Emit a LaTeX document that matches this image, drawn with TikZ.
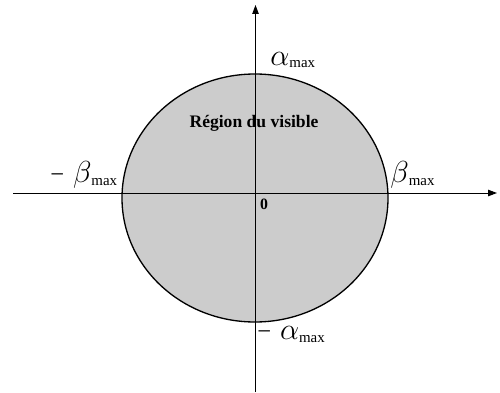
\documentclass[tikz,border=0pt]{standalone}
\usepackage{fontspec}
\setmainfont{Liberation Serif}
\usetikzlibrary{arrows.meta}
\newcommand{\bigsz}{\fontsize{17}{17}\selectfont}
\newcommand{\subsz}{\fontsize{8.5}{8.5}\selectfont}
\newcommand{\minsz}{\fontsize{14}{14}\selectfont}
\begin{document}
\begin{tikzpicture}[x=0.02cm,y=-0.02cm,
  axis/.style={line width=0.55pt,-{Triangle[length=5pt,width=3.6pt]}},
  lbl/.style={inner sep=0pt,anchor=base west},
]
\useasboundingbox (0,0) rectangle (500,392);
% region
\draw[line width=0.75pt,fill={rgb,255:red,204;green,204;blue,204}] (255,198) ellipse [x radius=133, y radius=124];
\node[inner sep=0pt,font=\bfseries\fontsize{10}{12}\selectfont] (reg) at (254,123) {Région du visible};
% axes
\coordinate (xl) at (13,193);
\coordinate (xr) at (497,193);
\coordinate (yb) at (255.5,392);
\coordinate (yt) at (255.5,5);
\draw[axis] (xl) -- (xr);
\draw[axis] (yb) -- (yt);
% labels
\node[lbl] (amax) at (270,65) {{\bigsz$\alpha$}\raisebox{-1.6pt}{\subsz max}};
\node[lbl] (mbmax) at (50,182) {{\minsz −}\hspace{5pt}{\bigsz$\beta$}\raisebox{-2pt}{\subsz max}};
\node[lbl] (bmax) at (390,182) {{\bigsz$\beta$}\raisebox{-2pt}{\subsz max}};
\node[lbl] (mamax) at (257,339) {{\minsz −}\hspace{5pt}{\bigsz$\alpha$}\raisebox{-2pt}{\subsz max}};
\node[inner sep=0pt,font=\bfseries\fontsize{9}{10}\selectfont] (zero) at (264,204) {0};
\end{tikzpicture}
\end{document}
